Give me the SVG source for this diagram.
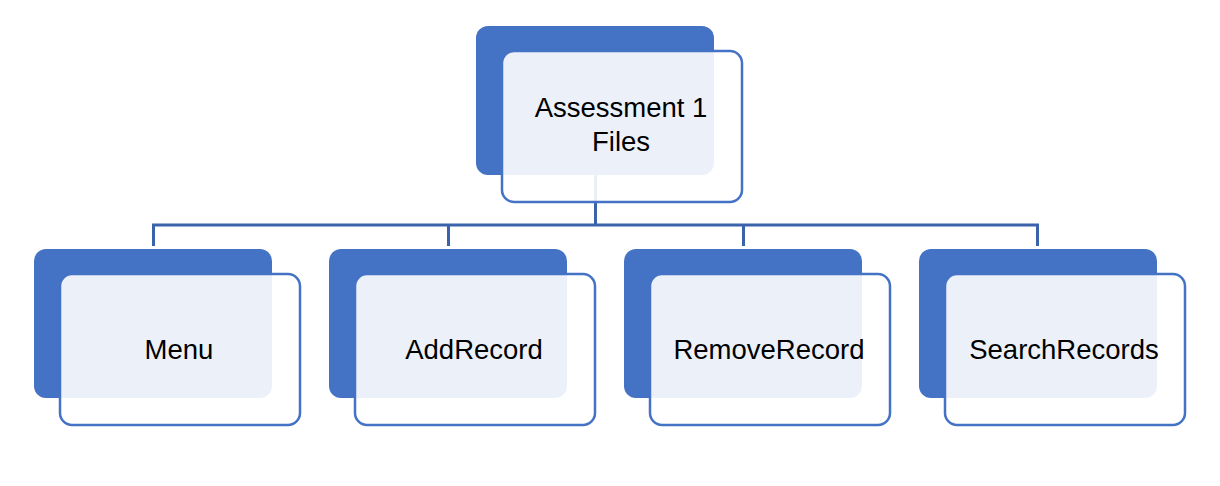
<svg xmlns="http://www.w3.org/2000/svg" width="1220" height="486" viewBox="0 0 1220 486">
<style>
.back{fill:#4472C4;}
.front{fill:#FFFFFF;fill-opacity:0.9;stroke:#4472C4;stroke-width:2.5;}
.conn{fill:none;stroke:#3B63AC;stroke-width:3;}
.lbl{font-family:"Liberation Sans",Arial,sans-serif;font-size:27.5px;fill:#000000;text-anchor:middle;}
</style>
<rect width="1220" height="486" fill="#FFFFFF"/>
<g id="connectors">
<path class="conn" d="M595.5,175 V225 M153.5,246 V225 H1037.5 V246 M448.5,225 V246 M743.5,225 V246"/>
</g>
<g id="node-root">
<rect class="back" x="476" y="26" width="238" height="149" rx="12"/>
<rect class="front" x="502" y="51" width="240" height="151" rx="12"/>
<text class="lbl" x="621" y="117">Assessment 1</text>
<text class="lbl" x="621" y="151">Files</text>
</g>
<g id="node-menu">
<rect class="back" x="34" y="249" width="238" height="149" rx="12"/>
<rect class="front" x="60" y="274" width="240" height="151" rx="12"/>
<text class="lbl" x="179" y="359">Menu</text>
</g>
<g id="node-addrecord">
<rect class="back" x="329" y="249" width="238" height="149" rx="12"/>
<rect class="front" x="355" y="274" width="240" height="151" rx="12"/>
<text class="lbl" x="474" y="359">AddRecord</text>
</g>
<g id="node-removerecord">
<rect class="back" x="624" y="249" width="238" height="149" rx="12"/>
<rect class="front" x="650" y="274" width="240" height="151" rx="12"/>
<text class="lbl" x="769" y="359">RemoveRecord</text>
</g>
<g id="node-searchrecords">
<rect class="back" x="919" y="249" width="238" height="149" rx="12"/>
<rect class="front" x="945" y="274" width="240" height="151" rx="12"/>
<text class="lbl" x="1064" y="359">SearchRecords</text>
</g>
</svg>
